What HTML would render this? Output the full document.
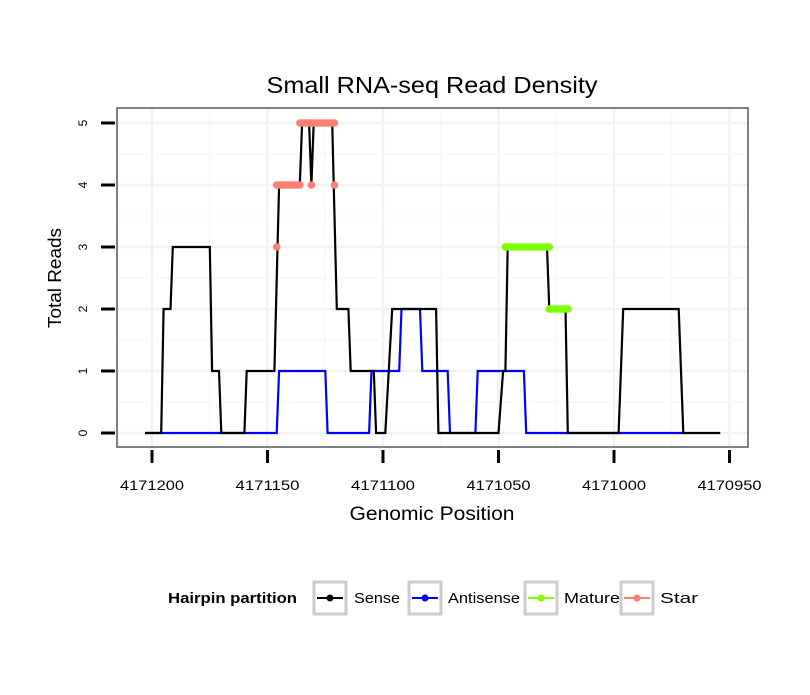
<!DOCTYPE html>
<html><head><meta charset="utf-8"><style>
body{margin:0;background:#fff;font-family:"Liberation Sans",sans-serif}
</style></head><body>
<svg id="chart" width="810" height="690" xmlns="http://www.w3.org/2000/svg" font-family="Liberation Sans, sans-serif">
<rect width="810" height="690" fill="#fff"/>
<text x="432" y="93" font-size="23" text-anchor="middle" textLength="331" lengthAdjust="spacingAndGlyphs">Small RNA-seq Read Density</text>
<g id="grid"></g>
<g id="axes"></g>
<g id="series"></g>
<rect x="117" y="108" width="631" height="339" fill="none" stroke="#808080" stroke-width="2"/>
<text x="432" y="520" font-size="19" text-anchor="middle" textLength="165" lengthAdjust="spacingAndGlyphs">Genomic Position</text>
<text transform="translate(61,278) rotate(-90)" font-size="18" text-anchor="middle" textLength="100" lengthAdjust="spacingAndGlyphs">Total Reads</text>
<g>
<text x="168" y="603" font-size="15" font-weight="bold" textLength="129" lengthAdjust="spacingAndGlyphs">Hairpin partition</text>
<g><rect x="314" y="582" width="32" height="32" fill="#fff" stroke="#ccc" stroke-width="3"/><line x1="317" y1="598" x2="343" y2="598" stroke="#000" stroke-width="2"/><circle cx="330" cy="598" r="3.5" fill="#000"/><text x="354" y="603" font-size="15" textLength="46" lengthAdjust="spacingAndGlyphs">Sense</text></g>
<g><rect x="409" y="582" width="32" height="32" fill="#fff" stroke="#ccc" stroke-width="3"/><line x1="412" y1="598" x2="438" y2="598" stroke="#00f" stroke-width="2"/><circle cx="425" cy="598" r="3.5" fill="#00f"/><text x="448" y="603" font-size="15" textLength="72" lengthAdjust="spacingAndGlyphs">Antisense</text></g>
<g><rect x="525" y="582" width="32" height="32" fill="#fff" stroke="#ccc" stroke-width="3"/><line x1="528" y1="598" x2="554" y2="598" stroke="#7fff00" stroke-width="2"/><circle cx="541" cy="598" r="3.5" fill="#7fff00"/><text x="564" y="603" font-size="15" textLength="56" lengthAdjust="spacingAndGlyphs">Mature</text></g>
<g><rect x="621" y="582" width="32" height="32" fill="#fff" stroke="#ccc" stroke-width="3"/><line x1="624" y1="598" x2="650" y2="598" stroke="#fa8072" stroke-width="2"/><circle cx="637" cy="598" r="3.5" fill="#fa8072"/><text x="660" y="603" font-size="15" textLength="38" lengthAdjust="spacingAndGlyphs">Star</text></g>
</g>
</svg>
<script>
const xTicks=[4171200,4171150,4171100,4171050,4171000,4170950];
const yTicks=[0,1,2,3,4,5];
const sensePos=[4171203,4171196,4171195,4171192,4171191,4171175,4171174,4171171,4171170,4171160,4171159,4171147,4171145,4171136,4171135,4171132,4171131,4171130,4171122,4171120,4171115,4171114,4171104,4171103,4171099,4171096,4171077,4171076,4171050,4171048,4171047,4171046,4171029,4171028,4171021,4171020,4170998,4170996,4170972,4170970,4170954];
const senseVal=[0,0,2,2,3,3,1,1,0,0,1,1,4,4,5,5,4,5,5,2,2,1,1,0,0,2,2,0,0,1,1,3,3,2,2,0,0,2,2,0,0];
const antiPos=[4171203,4171146,4171145,4171125,4171124,4171106,4171105,4171093,4171092,4171084,4171083,4171072,4171071,4171060,4171059,4171039,4171038,4170970];
const antiVal=[0,0,1,1,0,0,1,1,2,2,1,1,0,0,1,1,0,0];
// ranges: [start, end, reads]
const starRanges=[[4171146,4171146,3],[4171146,4171136,4],[4171131,4171131,4],[4171121,4171121,4],[4171136,4171121,5]];
const matureRanges=[[4171047,4171028,3],[4171028,4171020,2]];
const NS='http://www.w3.org/2000/svg';
const X0=117,X1=748,Y0=108,Y1=447;
function xs(p){return 152+(4171200-p)*2.31;}
function ys(v){return 433-v*62;}
function mk(t,a,parent){const e=document.createElementNS(NS,t);for(const k in a)e.setAttribute(k,a[k]);parent.appendChild(e);return e;}
const grid=document.getElementById('grid'),axes=document.getElementById('axes'),series=document.getElementById('series');
for(let i=0;i<xTicks.length;i++){
  const x=xs(xTicks[i]);
  const g=mk('line',{x1:x,x2:x,y1:Y0,y2:Y1,stroke:'#f2f2f2','stroke-width':2.5},grid);
  
  
  if(i<xTicks.length-1){const xm=xs((xTicks[i]+xTicks[i+1])/2);const m=mk('line',{x1:xm,x2:xm,y1:Y0,y2:Y1,stroke:'#f8f8f8','stroke-width':1.5},grid);
  
  }
  const t=mk('line',{x1:x,x2:x,y1:Y1+3,y2:Y1+16,stroke:'#000','stroke-width':3},axes);
  
  
  const l=mk('text',{x:x,y:490,'font-size':14,'text-anchor':'middle',textLength:64,lengthAdjust:'spacingAndGlyphs'},axes);l.textContent=xTicks[i];
  
  
}
for(let i=0;i<yTicks.length;i++){
  const y=ys(yTicks[i]);
  const g=mk('line',{x1:X0,x2:X1,y1:y,y2:y,stroke:'#f2f2f2','stroke-width':2.5},grid);
  
  
  if(i<yTicks.length-1){const ym=ys(yTicks[i]+0.5);const m=mk('line',{x1:X0,x2:X1,y1:ym,y2:ym,stroke:'#f8f8f8','stroke-width':1.5},grid);
  
  }
  const t=mk('line',{x1:101,x2:115,y1:y,y2:y,stroke:'#000','stroke-width':3},axes);
  
  
  const l=mk('text',{transform:`translate(87,${y}) rotate(-90)`,'font-size':12,'text-anchor':'middle'},axes);l.textContent=yTicks[i];
  
  
}
function line(pos,val,color,name){
  const d=pos.map((p,i)=>(i?'L':'M')+xs(p).toFixed(1)+','+ys(val[i]).toFixed(1)).join('');
  const e=mk('path',{d:d,fill:'none',stroke:color,'stroke-width':2.2},series);
  
  
}
line(antiPos,antiVal,'#0000ff','antisense-line');
line(sensePos,senseVal,'#000000','sense-line');
function pts(ranges,color,name){
  ranges.forEach(r=>{const a=Math.max(r[0],r[1]),b=Math.min(r[0],r[1]);
    for(let p=a;p>=b;p--){const c=mk('circle',{cx:xs(p),cy:ys(r[2]),r:3.8,fill:color},series);
      
      }});
}
pts(matureRanges,'#7fff00','mature-point');
pts(starRanges,'#fa8072','star-point');
</script>
</body></html>
